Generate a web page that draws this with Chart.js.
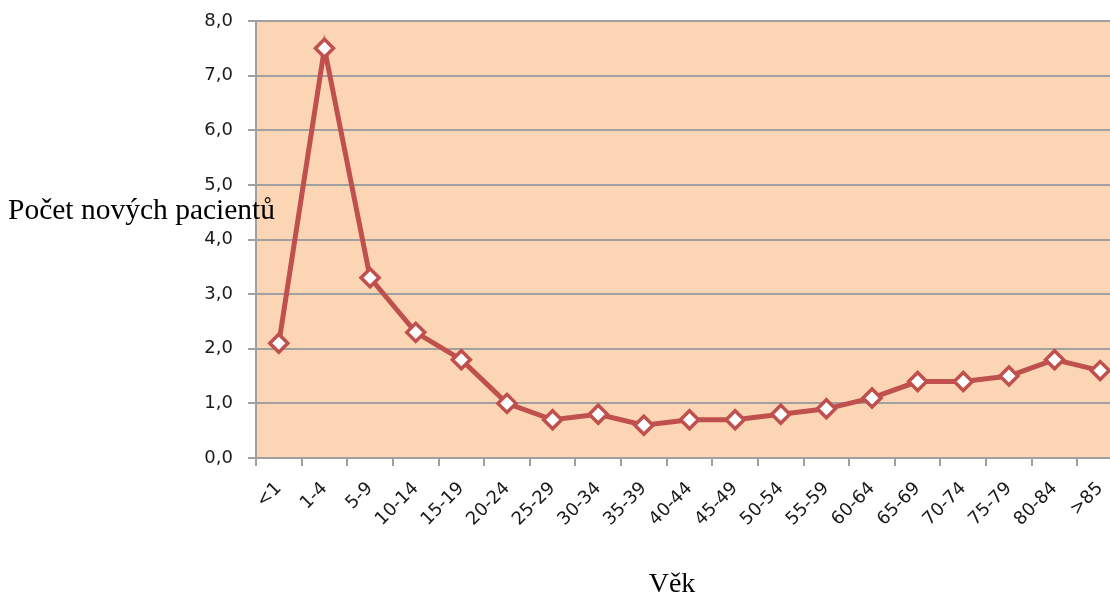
<!DOCTYPE html>
<html>
<head>
<meta charset="utf-8">
<script src="https://cdn.jsdelivr.net/npm/chart.js@4"></script>
<style>
  html, body { margin: 0; padding: 0; background: #fff; overflow: hidden; }
  #wrap { width: 1140px; height: 596px; }
</style>
</head>
<body>
<div id="wrap"><canvas id="chart" width="1140" height="596"></canvas></div>
<script>
let ageGroups = ["<1", "1-4", "5-9", "10-14", "15-19", "20-24", "25-29", "30-34", "35-39", "40-44",
                 "45-49", "50-54", "55-59", "60-64", "65-69", "70-74", "75-79", "80-84", ">85"];
let newPatients = [2.1, 7.5, 3.3, 2.3, 1.8, 1.0, 0.7, 0.8, 0.6, 0.7,
                   0.7, 0.8, 0.9, 1.1, 1.4, 1.4, 1.5, 1.8, 1.6];
let yTitle = "Počet nových pacientů";
let xTitle = "Věk";

let lineRed = "#c0504d";
let plotFill = "#fcd5b4";
let gridGrey = "#a0a0a0";
let tickFont = { family: "'DejaVu Sans', Verdana, sans-serif", size: 18 };

// fill behind the plot area + the two axis titles
let plotExtras = {
    id: 'plotExtras',
    beforeDraw(chart) {
        let a = chart.chartArea;
        let ctx = chart.ctx;
        ctx.save();
        ctx.fillStyle = plotFill;
        ctx.fillRect(a.left, a.top, a.right - a.left, a.bottom - a.top);
        ctx.restore();
    },
    afterDraw(chart) {
        let ctx = chart.ctx;
        ctx.save();
        ctx.fillStyle = "#000";
        ctx.textBaseline = "alphabetic";
        ctx.textAlign = "left";
        ctx.font = "29.5px 'Liberation Serif', 'Times New Roman', serif";
        ctx.fillText(yTitle, 8, 219);
        ctx.textAlign = "center";
        ctx.font = "28px 'Liberation Serif', 'Times New Roman', serif";
        ctx.fillText(xTitle, 672, 592);
        ctx.restore();
    }
};

let ctx = document.getElementById('chart').getContext('2d');
let chart = new Chart(ctx, {
    type: 'line',
    data: {
        labels: ageGroups,
        datasets: [{
            data: newPatients,
            borderColor: lineRed,
            borderWidth: 5,
            tension: 0,
            pointStyle: 'rectRot',
            pointRadius: 9,
            pointBorderWidth: 3.5,
            pointBackgroundColor: "#fff",
            pointBorderColor: lineRed
        }]
    },
    options: {
        responsive: false,
        animation: false,
        layout: { padding: { left: 0, right: 17, top: 21, bottom: 0 } },
        plugins: {
            legend: { display: false },
            tooltip: { enabled: false }
        },
        scales: {
            x: {
                offset: true,
                grid: {
                    offset: true,
                    drawOnChartArea: false,
                    drawTicks: true,
                    tickLength: 8,
                    color: gridGrey,
                    lineWidth: 2
                },
                border: { color: gridGrey, width: 2 },
                ticks: {
                    minRotation: 45,
                    maxRotation: 45,
                    autoSkip: false,
                    padding: 12,
                    color: "#1a1a1a",
                    font: tickFont
                },
                afterFit(scale) { scale.height = 138; }
            },
            y: {
                min: 0,
                max: 8,
                grid: {
                    color: gridGrey,
                    lineWidth: 2,
                    tickLength: 8
                },
                border: { color: gridGrey, width: 2 },
                ticks: {
                    stepSize: 1,
                    padding: 15,
                    color: "#1a1a1a",
                    font: tickFont,
                    callback: function(value) {
                        return value.toFixed(1).replace(".", ",");
                    }
                },
                afterFit(scale) { scale.width = 256; scale.paddingTop = 0; }
            }
        }
    },
    plugins: [plotExtras]
});
</script>
</body>
</html>
